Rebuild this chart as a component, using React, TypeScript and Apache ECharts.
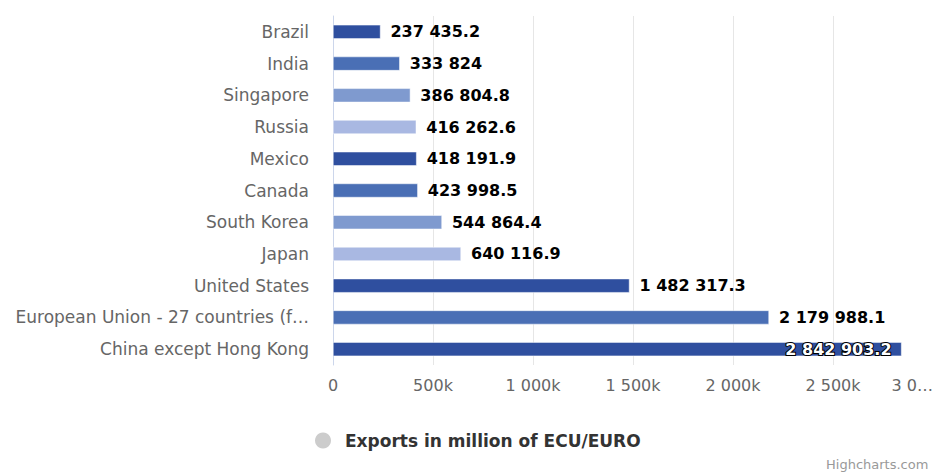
import React, { useEffect, useRef } from "react";
import * as echarts from "echarts";

const categories = [
  "Brazil",
  "India",
  "Singapore",
  "Russia",
  "Mexico",
  "Canada",
  "South Korea",
  "Japan",
  "United States",
  "European Union - 27 countries (from 2020)",
  "China except Hong Kong",
];

const exportsValues = [
  237435.2, 333824, 386804.8, 416262.6, 418191.9, 423998.5, 544864.4, 640116.9,
  1482317.3, 2179988.1, 2842903.2,
];

const barColors = [
  "#2f4f9f",
  "#4a6fb5",
  "#7f9acf",
  "#a9b8e2",
  "#2f4f9f",
  "#4a6fb5",
  "#7f9acf",
  "#a9b8e2",
  "#2f4f9f",
  "#4a6fb5",
  "#2f4f9f",
];

const xTickLabels = ["0", "500k", "1 000k", "1 500k", "2 000k", "2 500k", "3 0…"];

const seriesName = "Exports in million of ECU/EURO";

function fmt(v: number): string {
  const [i, d] = String(v).split(".");
  const withSpaces = i.replace(/\B(?=(\d{3})+(?!\d))/g, " ");
  return d ? withSpaces + "." + d : withSpaces;
}

export default function App() {
  const ref = useRef<HTMLDivElement>(null);
  useEffect(() => {
    if (!ref.current) return;
    const chart = echarts.init(ref.current, undefined, { renderer: "svg" });
    const font = "DejaVu Sans, Verdana, sans-serif";
    const maxIdx = exportsValues.length - 1;
    chart.setOption({
      animation: false,
      textStyle: { fontFamily: font },
      grid: { left: 333, right: 1, top: 16, bottom: 108, containLabel: false },
      xAxis: {
        type: "value",
        min: 0,
        max: 3000000,
        interval: 500000,
        axisLine: { show: false },
        axisTick: { show: false },
        splitLine: { lineStyle: { color: "#e6e6e6", width: 1 } },
        axisLabel: {
          color: "#666",
          fontSize: 16,
          fontFamily: font,
          margin: 12,
          alignMaxLabel: "right",
          formatter: (v: number) => xTickLabels[Math.round(v / 500000)] ?? "",
        },
      },
      yAxis: {
        type: "category",
        data: categories,
        inverse: true,
        axisLine: { show: true, lineStyle: { color: "#ccd6eb", width: 1 } },
        axisTick: { show: false },
        splitLine: { show: false },
        axisLabel: {
          color: "#666",
          fontSize: 17,
          fontFamily: font,
          margin: 24,
          width: 298,
          overflow: "truncate",
          ellipsis: "…",
        },
      },
      legend: {
        left: 310,
        top: 427,
        icon: "circle",
        itemWidth: 16,
        itemHeight: 16,
        selectedMode: false,
        data: [{ name: seriesName, itemStyle: { color: "#cccccc" } }],
        textStyle: {
          color: "#333",
          fontSize: 17,
          fontWeight: "bold",
          fontFamily: font,
          padding: [0, 0, 0, 9],
        },
      },
      graphic: [
        {
          type: "text",
          left: 826,
          top: 458,
          style: {
            text: "Highcharts.com",
            fill: "#999",
            font: "13px DejaVu Sans, sans-serif",
          },
        },
      ],
      series: [
        {
          name: seriesName,
          type: "bar",
          barWidth: 14,
          itemStyle: { color: "#cccccc" },
          data: exportsValues.map((v, i) => {
            const inside = i === maxIdx;
            return {
              value: v,
              itemStyle: { color: barColors[i], borderColor: "#ffffff", borderWidth: 0.5 },
              label: inside
                ? {
                    show: true,
                    position: "insideRight",
                    distance: 10,
                    color: "#ffffff",
                    textBorderColor: "#000000",
                    textBorderWidth: 2,
                  }
                : { show: true, position: "right", distance: 10 },
            };
          }),
          label: {
            show: true,
            color: "#000",
            fontSize: 16,
            fontWeight: "bold",
            fontFamily: font,
            formatter: (p: any) => fmt(p.value),
          },
        },
      ],
    });
    return () => chart.dispose();
  }, []);
  return (
    <div
      style={{
        position: "absolute",
        left: 0,
        top: 0,
        width: 933,
        height: 473,
        overflow: "hidden",
      }}
    >
      <div ref={ref} style={{ width: 936, height: 473 }} />
    </div>
  );
}
